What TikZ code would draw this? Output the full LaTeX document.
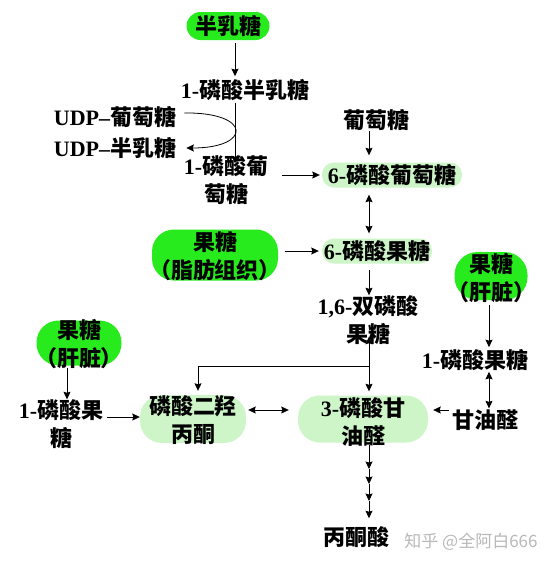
\documentclass[tikz,border=0pt]{standalone}
\usepackage{fontspec}
\setmainfont{Liberation Serif}
\newfontfamily\cjk{Noto Sans CJK SC}
\newfontfamily\lat{Liberation Serif}
\usetikzlibrary{arrows.meta,calc}
\definecolor{brightg}{RGB}{40,235,30}
\definecolor{lightg}{RGB}{205,245,200}
\newcommand{\nm}[1]{{\lat\bfseries #1}}
\begin{document}
\begin{tikzpicture}[x=1pt,y=-1pt,
 lbl/.style={inner sep=0pt, align=center, font=\cjk\bfseries\fontsize{22}{28}\selectfont},
 pill/.style={lbl, rounded corners=#1},
 bright/.style={pill=#1, fill=brightg},
 light/.style={pill=#1, fill=lightg},
 tip/.tip={Stealth[length=7.5pt,width=7pt,inset=1pt]},
 arr/.style={-tip, line width=0.8pt},
 darr/.style={tip-tip, line width=0.8pt},
 plain/.style={line width=0.8pt}
]
\fill[white] (0,0) rectangle (551,566);
\useasboundingbox (0,0) rectangle (551,566);

% axes and rows
\coordinate (ax1) at (235,0);
\coordinate (axM) at (369,0);
\coordinate (axR) at (489,0);
\coordinate (axL) at (67,0);
\coordinate (axD) at (198,0);
\coordinate (yrow) at (0,410);
\coordinate (yrow2) at (0,417);

% nodes
\node[bright=14pt, minimum width=83pt, minimum height=28pt] (gal) at (228,26) {半乳糖};
\node[lbl] (gal1p) at (245,90) {\nm{1-}磷酸半乳糖};
\node[lbl] (udpglc) at (115,117) {\nm{UDP–}葡萄糖};
\node[lbl] (udpgal) at (115,148) {\nm{UDP–}半乳糖};
\node[lbl] (glc1p) at (226,180) {\nm{1-}磷酸葡\\萄糖};
\node[lbl] (glc) at (376,120) {葡萄糖};
\node[light=12pt, minimum width=140pt, minimum height=25pt] (g6p) at (392,175) {\nm{6-}磷酸葡萄糖};

\node[bright=22pt, minimum width=126pt, minimum height=51pt] (fruA) at (215,255) {};
\node[lbl] (fruAt) at (215,256) {果糖\\（脂肪组织）};
\node[light=12pt, minimum width=110pt, minimum height=25pt] (f6p) at (377,251) {\nm{6-}磷酸果糖};
\node[lbl] (f16bp) at (368,320) {\nm{1,6-}双磷酸\\果糖};

\node[bright=23pt, minimum width=73pt, minimum height=48pt] (fruL2) at (491,276) {};
\node[lbl] (fruL2t) at (491,278) {果糖\\（肝脏）};
\node[lbl] (f1p2) at (475,360) {\nm{1-}磷酸果糖};
\node[lbl] (gald) at (485,420) {甘油醛};

\node[light=22pt, minimum width=130pt, minimum height=47pt] (gap) at (363,419) {};
\node[lbl] (gapt) at (363,422) {\nm{3-}磷酸甘\\油醛};
\node[light=22pt, minimum width=106pt, minimum height=48pt] (dhap) at (193,419) {};
\node[lbl] (dhapt) at (193,420) {磷酸二羟\\丙酮};

\node[bright=22pt, minimum width=85pt, minimum height=45pt] (fruL1) at (79,343) {};
\node[lbl] (fruL1t) at (79,344) {果糖\\（肝脏）};
\node[lbl] (f1p1) at (61,424) {\nm{1-}磷酸果\\糖};
\node[lbl] (pyr) at (356,537) {丙酮酸};
\node[inner sep=0pt, font=\cjk\fontsize{17}{20}\selectfont, text=gray!55] (wm) at (471,542) {知乎 @全阿白666};

% connectors
\draw[arr, shorten <=3pt, shorten >=3pt] (gal.south -| ax1) -- (gal1p.north -| ax1);
\draw[arr, shorten <=2pt] (gal1p.south -| ax1) -- ($(glc1p.north -| ax1)+(0,8)$);
\draw[arr] ($(udpglc.east)+(8,-4)$) .. controls (252,112) and (252,148) .. ($(udpgal.east)+(10,0)$);
\draw[arr, shorten <=14pt, shorten >=2pt] (glc1p.east |- g6p.west) -- (g6p.west);
\draw[arr, shorten >=7pt] (glc.south -| axM) -- (g6p.north -| axM);
\draw[darr, shorten <=7pt, shorten >=5pt] (g6p.south -| axM) -- (f6p.north -| axM);
\draw[arr, shorten <=7pt, shorten >=3pt] (fruA.east |- f6p.west) -- (f6p.west);
\draw[arr, shorten <=6pt] (f6p.south -| axM) -- (f16bp.north -| axM);
\draw[darr] ($(f16bp.south -| axM)+(0,-8)$) -- ($(gap.north -| axM)+(0,-4)$);
\coordinate (br) at (369,366);
\draw[arr, shorten >=4pt] (br) -| (dhap.north -| axD);
\draw[arr, shorten <=5pt, shorten >=2pt] (fruL2.south -| axR) -- (f1p2.north -| axR);
\draw[darr, shorten <=1pt, shorten >=1pt] (f1p2.south -| axR) -- (gald.north -| axR);
\draw[arr, shorten <=3pt, shorten >=5pt] (gald.west |- yrow) -- (gap.east |- yrow);
\draw[darr, shorten <=2pt, shorten >=9pt] (dhap.east |- yrow) -- (gap.west |- yrow);
\draw[arr, shorten <=2pt] (fruL1.south -| axL) -- (f1p1.north -| axL);
\draw[arr, shorten <=4pt] (f1p1.east |- yrow2) -- (dhap.west |- yrow2);
\coordinate (c1) at (369,469);
\coordinate (c2) at (369,484);
\coordinate (c3) at (369,501);
\draw[arr, shorten <=2pt] (gap.south -| axM) -- (c1);
\draw[arr] (c1) -- (c2);
\draw[arr] (c2) -- (c3);
\draw[arr, shorten >=8pt] (c3) -- (pyr.north -| axM);
\end{tikzpicture}
\end{document}
